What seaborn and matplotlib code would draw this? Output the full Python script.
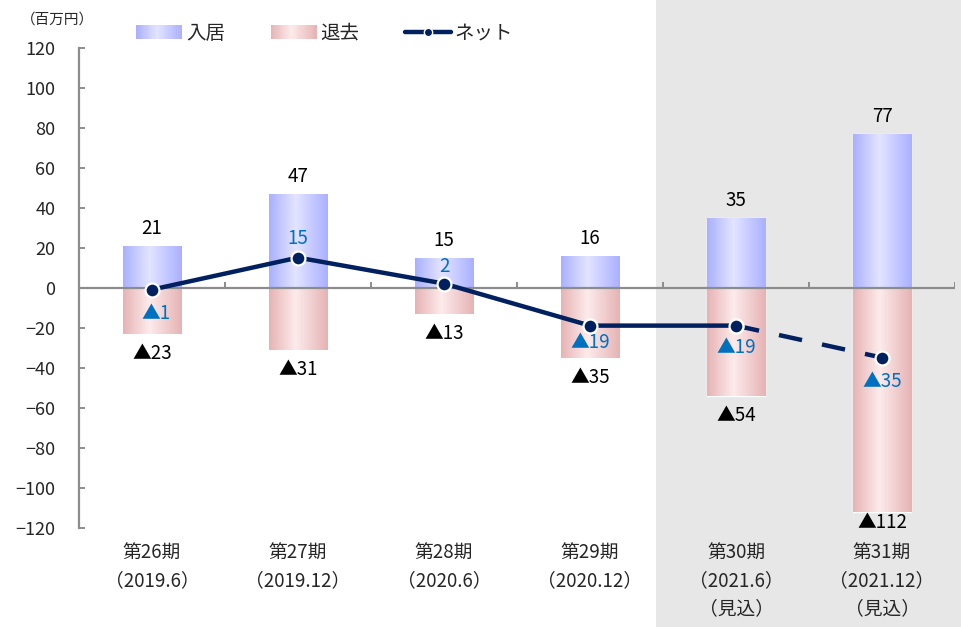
import numpy as np
import pandas as pd
import matplotlib
matplotlib.use("Agg")
import matplotlib.pyplot as plt
import seaborn as sns
from matplotlib.patches import Rectangle, Patch
from matplotlib.lines import Line2D
from matplotlib.legend_handler import HandlerBase
from matplotlib.colors import LinearSegmentedColormap

# ---- data (百万円) ----
periods = [
    "第26期\n（2019.6）",
    "第27期\n（2019.12）",
    "第28期\n（2020.6）",
    "第29期\n（2020.12）",
    "第30期\n（2021.6）\n（見込）",
    "第31期\n（2021.12）\n（見込）",
]
move_in = [21, 47, 15, 16, 35, 77]
move_out = [23, 31, 13, 35, 54, 112]
net = [-1, 15, 2, -19, -19, -35]
first_forecast = 4  # 第30期 onward are forecasts

# ---- style ----
navy = "#002060"
net_blue = "#0070C0"
axis_gray = "#8c8c8c"
shade_gray = "#e7e7e7"
label_size = 13.5
net_label_offsets = [(3, -17), (0, 14), (0, 12.5), (0, -12.5), (0, -16), (0, -17.5)]  # points
out_label_offsets = [-14, -14, -14, -14, -14, -8]  # points below bar end

sns.set_theme(style="white")
plt.rcParams["font.family"] = ["Noto Sans CJK JP", "DejaVu Sans"]
plt.rcParams["axes.unicode_minus"] = True

fig = plt.figure(figsize=(9.61, 6.27), dpi=100)
fig.patch.set_facecolor("white")
# forecast band behind the last two periods
fig.patches.append(Rectangle((656 / 961, 0), 1 - 656 / 961, 1, transform=fig.transFigure,
                             facecolor=shade_gray, edgecolor="none", zorder=-5))

ax = fig.add_axes([0.0822, 0.1584, 0.9116, 0.7658])
ax.patch.set_alpha(0)
ax.set_zorder(1)

x = np.arange(len(periods))
df = pd.DataFrame({"period": periods, "in": move_in, "out": [-v for v in move_out]})
sns.barplot(data=df, x="period", y="in", width=0.4, color="#c8caff", saturation=1, ax=ax, zorder=2)
sns.barplot(data=df, x="period", y="out", width=0.4, color="#f1cfd0", saturation=1, ax=ax, zorder=2)

in_cmap = LinearSegmentedColormap.from_list("in_grad", [(0, "#aab0ff"), (0.45, "#e3e4ff"), (1, "#aab0ff")])
out_cmap = LinearSegmentedColormap.from_list("out_grad", [(0, "#e6b3b4"), (0.45, "#fdebec"), (1, "#e6b3b4")])
grad = np.linspace(0, 1, 256).reshape(1, -1)
for p in list(ax.patches):
    x0, w, y0, h = p.get_x(), p.get_width(), p.get_y(), p.get_height()
    cmap = in_cmap if h >= 0 else out_cmap
    im = ax.imshow(grad, cmap=cmap, extent=[x0, x0 + w, min(y0, y0 + h), max(y0, y0 + h)],
                   aspect="auto", zorder=2.1, interpolation="bilinear")
    im.set_clip_path(p)

# zero line and category separators
ax.axhline(0, color=axis_gray, lw=1.6, zorder=3)
ax.vlines(x + 0.5, 0, 2.6, color=axis_gray, lw=1.4, zorder=3)

# net line: actual (solid) and forecast (dashed)
sns.lineplot(x=x[first_forecast:], y=net[first_forecast:], ax=ax, color=navy, lw=3.2,
             linestyle=(0, (5.3, 4.6)), marker="o", markersize=10, markeredgecolor="white",
             markeredgewidth=1.6, zorder=4)
sns.lineplot(x=x[:first_forecast + 1], y=net[:first_forecast + 1], ax=ax, color=navy, lw=3.2,
             marker="o", markersize=10, markeredgecolor="white", markeredgewidth=1.6, zorder=5)

# value labels
for i in x:
    ax.annotate(f"{move_in[i]}", (i, move_in[i]), xytext=(0, 12), textcoords="offset points",
                ha="center", va="center", fontsize=label_size, color="black", zorder=6)
    ax.annotate(f"▲{move_out[i]}", (i, -move_out[i]), xytext=(0, out_label_offsets[i]),
                textcoords="offset points", ha="center", va="center", fontsize=label_size,
                color="black", zorder=6, annotation_clip=False)
    v = net[i]
    txt = f"▲{-v}" if v < 0 else f"{v}"
    ax.annotate(txt, (i, v), xytext=net_label_offsets[i], textcoords="offset points",
                ha="center", va="center", fontsize=label_size, color=net_blue, zorder=6)

ax.set_xlim(-0.5, len(periods) - 0.5)
ax.set_ylim(-120, 120)
ax.set_yticks(np.arange(-120, 121, 20))
ax.set_xticks(x)
ax.set_xticklabels(periods)
for lbl in ax.get_xticklabels():
    lbl.set_linespacing(1.4)
ax.set_xlabel("")
ax.set_ylabel("")

for s in ["top", "right", "bottom"]:
    ax.spines[s].set_visible(False)
ax.spines["left"].set_color(axis_gray)
ax.spines["left"].set_linewidth(1.6)
ax.tick_params(axis="y", direction="in", length=4.5, width=1.4, color=axis_gray, pad=17,
               labelsize=13, left=True)
ax.tick_params(axis="x", length=0, pad=11, labelsize=13.5)

fig.text(57 / 961, 1 - 20 / 627, "（百万円）", ha="center", va="center", fontsize=10.5)


class GradientHandler(HandlerBase):
    def __init__(self, cmap, n=40):
        super().__init__()
        self.cmap = cmap
        self.n = n

    def create_artists(self, legend, orig_handle, xdescent, ydescent, width, height, fontsize, trans):
        arts = []
        for k in range(self.n):
            r = Rectangle((-xdescent + width * k / self.n, -ydescent), width / self.n * 1.05, height,
                          facecolor=self.cmap((k + 0.5) / self.n), edgecolor="none", transform=trans)
            arts.append(r)
        return arts


h_in = Patch(label="入居")
h_out = Patch(label="退去")
h_net = Line2D([], [], color=navy, lw=3.2, marker="o", markersize=6, markeredgecolor="white",
               markeredgewidth=1, label="ネット")
fig.legend(handles=[h_in, h_out, h_net], labels=["入居", "退去", "ネット"],
           handler_map={h_in: GradientHandler(in_cmap), h_out: GradientHandler(out_cmap)},
           loc="center", bbox_to_anchor=(0.338, 0.947), ncol=3, frameon=False, fontsize=14,
           handlelength=2.35, handleheight=0.75, handletextpad=0.2, columnspacing=2.35)

fig.savefig("out.png", dpi=100)
